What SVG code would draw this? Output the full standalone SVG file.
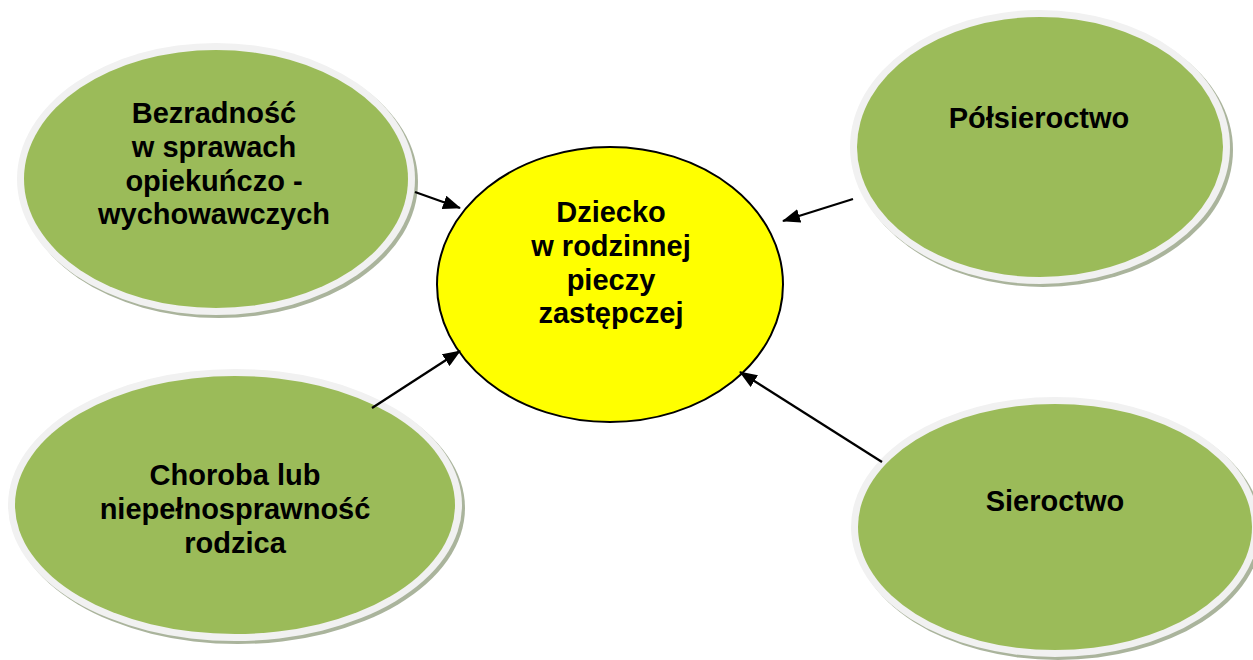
<svg xmlns="http://www.w3.org/2000/svg" width="1253" height="660" viewBox="0 0 1253 660">
<style>
.shadow{fill:#aab49c}
.rim{fill:#f1f1f1}
.green{fill:#9bbb59}
.center{fill:#ffff00;stroke:#000;stroke-width:2}
.t{font-family:"Liberation Sans",Arial,sans-serif;font-weight:bold;font-size:29px;fill:#000;text-anchor:middle}
.conn{stroke:#000;stroke-width:2.3;fill:none;marker-end:url(#ah)}
</style>
<defs>
<marker id="ah" viewBox="0 0 18 14" refX="17" refY="7" markerWidth="18" markerHeight="14" orient="auto" markerUnits="userSpaceOnUse">
<path d="M0,0 L18,7 L0,14 z" fill="#000"/>
</marker>
</defs>
<rect width="1253" height="660" fill="#fff"/>
<g id="node-bezradnosc">
<ellipse class="shadow" cx="219" cy="182" rx="199" ry="136"/>
<ellipse class="rim" cx="216" cy="179" rx="199" ry="136"/>
<ellipse class="green" cx="216" cy="179" rx="192" ry="129"/>
<text class="t"><tspan x="214" y="123">Bezradność</tspan><tspan x="214" y="157">w sprawach</tspan><tspan x="214" y="191">opiekuńczo -</tspan><tspan x="214" y="224">wychowawczych</tspan></text>
</g>
<g id="node-polsieroctwo">
<ellipse class="shadow" cx="1043" cy="150" rx="190" ry="137"/>
<ellipse class="rim" cx="1040" cy="147" rx="190" ry="137"/>
<ellipse class="green" cx="1040" cy="147" rx="183" ry="130"/>
<text class="t" x="1039" y="128">Półsieroctwo</text>
</g>
<g id="node-choroba">
<ellipse class="shadow" cx="238" cy="508" rx="227" ry="136"/>
<ellipse class="rim" cx="235" cy="505" rx="227" ry="136"/>
<ellipse class="green" cx="235" cy="505" rx="220" ry="129"/>
<text class="t"><tspan x="235" y="485">Choroba lub</tspan><tspan x="235" y="519">niepełnosprawność</tspan><tspan x="235" y="553">rodzica</tspan></text>
</g>
<g id="node-sieroctwo">
<ellipse class="shadow" cx="1058" cy="530" rx="204" ry="130"/>
<ellipse class="rim" cx="1055" cy="527" rx="204" ry="130"/>
<ellipse class="green" cx="1055" cy="527" rx="197" ry="123"/>
<text class="t" x="1055" y="511">Sieroctwo</text>
</g>
<g id="node-dziecko">
<ellipse class="center" cx="610" cy="284.5" rx="173" ry="137.5"/>
<text class="t"><tspan x="611" y="222">Dziecko</tspan><tspan x="611" y="256">w rodzinnej</tspan><tspan x="611" y="290">pieczy</tspan><tspan x="611" y="323">zastępczej</tspan></text>
</g>
<g id="connectors">
<line class="conn" x1="415" y1="192" x2="460" y2="208"/>
<line class="conn" x1="853" y1="199" x2="783" y2="221"/>
<line class="conn" x1="372" y1="408" x2="460" y2="351"/>
<line class="conn" x1="882" y1="462" x2="740" y2="372"/>
</g>
</svg>
